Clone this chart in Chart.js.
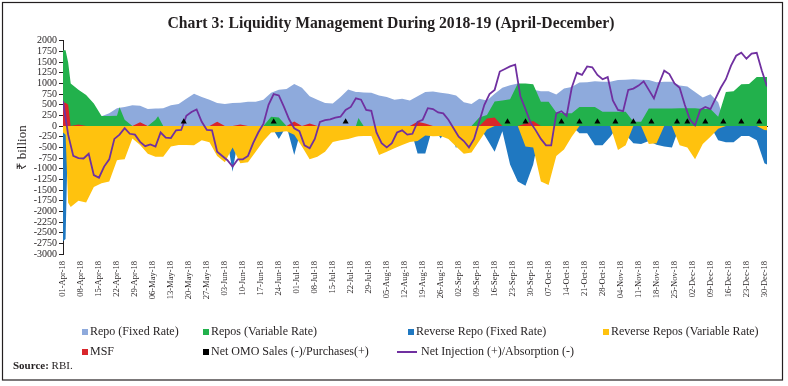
<!DOCTYPE html>
<html>
<head>
<meta charset="utf-8">
<script src="https://cdn.jsdelivr.net/npm/chart.js@4.4.1/dist/chart.umd.min.js"></script>
<style>
  html, body { margin: 0; padding: 0; background: #fff; }
</style>
</head>
<body>
<canvas id="chart" width="788" height="386"></canvas>
<script>
// weekly tick labels, one every 7 days from 01-Apr-18
const weekLabels = [
  '01-Apr-18','08-Apr-18','15-Apr-18','22-Apr-18','29-Apr-18','06-May-18','13-May-18','20-May-18',
  '27-May-18','03-Jun-18','10-Jun-18','17-Jun-18','24-Jun-18','01-Jul-18','08-Jul-18','15-Jul-18',
  '22-Jul-18','29-Jul-18','05-Aug-18','12-Aug-18','19-Aug-18','26-Aug-18','02-Sep-18','09-Sep-18',
  '16-Sep-18','23-Sep-18','30-Sep-18','07-Oct-18','14-Oct-18','21-Oct-18','28-Oct-18','04-Nov-18',
  '11-Nov-18','18-Nov-18','25-Nov-18','02-Dec-18','09-Dec-18','16-Dec-18','23-Dec-18','30-Dec-18'
];

// sample days (0 = 01-Apr-18) for the area series
const days = [
  0, 1, 2, 3, 6, 9, 12, 15, 18, 21,
  22, 24, 27, 30, 33, 36, 37, 39, 42, 45,
  48, 51, 54, 57, 60, 63, 66, 69, 72, 75,
  78, 81, 84, 87, 90, 93, 96, 99, 102, 105,
  108, 111, 114, 115, 117, 120, 123, 126, 129, 132,
  135, 138, 141, 144, 147, 150, 153, 156, 159, 162,
  165, 168, 171, 174, 177, 180, 183, 186, 189, 192,
  195, 198, 201, 204, 207, 210, 213, 216, 219, 222,
  225, 228, 231, 234, 237, 240, 243, 246, 249, 252,
  255, 258, 261, 264, 267, 270, 273, 274
];

const repoFixed = [
  0, 0, 0, 0, 0, 200, 330, 230, 300, 420,
  430, 450, 490, 480, 400, 415, 415, 420, 490, 520,
  640, 760, 680, 620, 540, 520, 540, 550, 570, 570,
  620, 780, 850, 870, 990, 900, 700, 620, 540, 530,
  680, 860, 800, 800, 790, 780, 720, 680, 620, 640,
  600, 700, 800, 810, 780, 760, 720, 560, 520, 640,
  600, 760, 900, 960, 1000, 850, 850, 820, 820, 740,
  880, 920, 1020, 1030, 1050, 1040, 1040, 1080, 1090, 1100,
  1090, 1080, 1030, 1040, 1040, 950, 930, 800, 670, 750,
  560, 0, 0, 0, 0, 0, 0, 0
];

const repoVar = [
  1780, 1780, 1500, 1000, 850, 730, 530, 235, 235, 240,
  440, 150, 0, 0, 0, 150, 230, 0, 0, 0,
  0, 0, 0, 0, 0, 0, 0, 0, 0, 0,
  0, 220, 200, 0, 0, 0, 0, 0, 0, 0,
  0, 0, 0, 190, 0, 0, 0, 0, 0, 0,
  0, 0, 0, 0, 0, 0, 0, 0, 0, 200,
  260, 580, 600, 630, 1000, 1000, 980, 570, 570, 320,
  300, 300, 450, 450, 450, 335, 335, 335, 335, 100,
  100, 415, 415, 415, 415, 420, 420, 420, 400, 400,
  220, 800, 820, 980, 990, 1150, 1150, 1150
];

const revFixed = [
  -2700, -2650, 0, 0, 0, 0, 0, 0, 0, 0,
  0, 0, 0, 0, 0, 0, 0, 0, 0, 0,
  0, 0, 0, 0, 0, 0, -1070, 0, 0, 0,
  0, 0, -300, 0, -680, 0, 0, 0, 0, 0,
  0, 0, 0, 0, 0, 0, 0, 0, 0, 0,
  0, -640, -640, 0, -290, 0, -520, 0, 0, 0,
  -300, -600, -120, -900, -1300, -1400, -900, 0, 0, 0,
  0, 0, -170, -170, -450, -450, -250, 0, -200, -400,
  -420, -350, -440, -480, -500, 0, 0, 0, 0, 0,
  -330, -380, -380, -230, -230, -330, -870, -900
];

const revVar = [
  -150, -200, -1800, -1900, -1750, -1790, -1430, -1340, -1300, -800,
  -790, -780, -290, -445, -650, -720, -720, -720, -480, -445,
  -445, -450, -330, -380, -700, -850, -500, -870, -850, -600,
  -350, -150, -140, -120, -200, -480, -780, -720, -600, -370,
  -330, -300, -250, -240, -230, -230, -680, -600, -520, -445,
  -370, -350, -220, -240, -230, -300, -480, -650, -620, -350,
  -80, 0, 0, 0, 0, -480, -500, -1300, -1380, -700,
  -550, -250, 0, 0, 0, 0, 0, -560, -450, 0,
  0, -420, -400, 0, 0, -450, -500, -780, -420, -250,
  -60, 0, 0, 0, 0, 0, -90, -100
];

const msf = [
  550, 550, 500, 0, 40, 0, 0, 0, 0, 0,
  0, 0, 0, 90, 0, 0, 0, 0, 0, 0,
  0, 0, 0, 0, 100, 0, 0, 40, 0, 0,
  0, 0, 0, 0, 110, 0, 60, 0, 0, 0,
  0, 0, 0, 0, 0, 0, 0, 0, 0, 0,
  0, 100, 60, 0, 0, 0, 0, 0, 0, 0,
  180, 200, 0, 0, 0, 60, 120, 0, 0, 0,
  0, 0, 0, 0, 0, 0, 0, 0, 0, 0,
  0, 0, 0, 0, 0, 0, 0, 0, 0, 0,
  0, 0, 0, 0, 0, 0, 0, 0
];

// OMO operation days and amounts
const omoDays = [47, 82, 110, 173, 180, 194, 201, 208, 215, 222, 229, 239, 243, 250, 257, 264, 271];
const omoValues = [100, 100, 100, 100, 100, 100, 100, 100, 100, 100, 100, 100, 100, 100, 100, 100, 100];

// net injection, every second day
const lineDays = Array.from({ length: 138 }, (_, i) => i * 2);
const netInjection = [
  590, -200, -700, -750, -760, -650, -1150, -1210, -950, -780,
  -300, -200, -50, -180, -200, -370, -470, -430, -480, -150,
  -270, -280, -100, -90, 240, 330, 390, 100, -90, -100,
  -600, -700, -800, -950, -780, -780, -700, -400, -150, 50,
  500, 750, 720, 450, 160, -50, -120, -450, -520, -300,
  100, 140, 160, 200, 220, 380, 450, 650, 620, 380,
  360, -150, -400, -500, -400, -150, -100, -200, -180, 100,
  150, 420, 400, 320, 300, 150, -50, -250, -350, -500,
  -300, 100, 500, 750, 850, 1280, 1340, 1400, 1440, 700,
  400, 80, -100, -300, -450, -450, 300, 350, 240, 900,
  1250, 1200, 1400, 1380, 1200, 1100, 1150, 600, 380, 350,
  850, 880, 950, 1050, 850, 650, 1000, 1300, 1220, 1000,
  900, 500, 150, 20, 380, 450, 400, 650, 900, 1100,
  1420, 1650, 1720, 1580, 1700, 1720, 1300, 930
];

const FONT = '"Liberation Serif", "Times New Roman", serif';

function points(xs, ys) {
  return xs.map((x, i) => ({ x: x, y: ys[i] }));
}

function area(label, values, color, order) {
  return {
    label: label,
    data: points(days, values),
    backgroundColor: color,
    borderColor: color,
    borderWidth: 0,
    fill: 'origin',
    pointRadius: 0,
    tension: 0,
    order: order,
    xAxisID: 'x'
  };
}

// legend slots follow the dataset order
const legendSlots = [
  { x: 82, y: 332 }, { x: 203, y: 332 }, { x: 408, y: 332 }, { x: 603, y: 332 },
  { x: 82, y: 352 }, { x: 203, y: 352 }, { x: 397, y: 352 }
];

const decor = {
  id: 'decor',
  beforeDraw(chart) {
    const ctx = chart.ctx;
    ctx.save();
    ctx.fillStyle = '#fff';
    ctx.fillRect(0, 0, chart.width, chart.height);
    ctx.restore();
  },
  afterDraw(chart) {
    const ctx = chart.ctx;
    ctx.save();
    ctx.strokeStyle = '#231f20';
    ctx.lineWidth = 1.2;
    ctx.strokeRect(2.5, 2.5, 780, 377.5);

    ctx.font = '12px ' + FONT;
    ctx.textBaseline = 'middle';
    ctx.fillStyle = '#231f20';
    chart.data.datasets.forEach((ds, i) => {
      const slot = legendSlots[i];
      if (ds.fill === false && ds.showLine !== false) {
        ctx.strokeStyle = ds.borderColor;
        ctx.lineWidth = 2;
        ctx.beginPath();
        ctx.moveTo(slot.x, slot.y);
        ctx.lineTo(slot.x + 20, slot.y);
        ctx.stroke();
        ctx.fillStyle = '#231f20';
        ctx.fillText(ds.label, slot.x + 24, slot.y);
      } else {
        ctx.fillStyle = ds.backgroundColor;
        ctx.fillRect(slot.x, slot.y - 3, 6, 6);
        ctx.fillStyle = '#231f20';
        ctx.fillText(ds.label, slot.x + 8, slot.y);
      }
    });

    ctx.font = 'bold 11px ' + FONT;
    ctx.fillText('Source:', 13, 366);
    const w = ctx.measureText('Source:').width;
    ctx.font = '11px ' + FONT;
    ctx.fillText(' RBI.', 13 + w, 366);
    ctx.restore();
  }
};

new Chart(document.getElementById('chart'), {
  type: 'line',
  data: {
    datasets: [
      area('Repo (Fixed Rate)', repoFixed, '#8eaadc', 6),
      area('Repos (Variable Rate)', repoVar, '#22b14c', 5),
      area('Reverse Repo (Fixed Rate)', revFixed, '#1f78c1', 4),
      area('Reverse Repos (Variable Rate)', revVar, '#ffc20e', 3),
      area('MSF', msf, '#d9262b', 2),
      {
        label: 'Net OMO Sales (-)/Purchases(+)',
        data: points(omoDays, omoValues),
        showLine: false,
        fill: false,
        backgroundColor: '#000',
        borderColor: '#000',
        pointStyle: 'triangle',
        pointRadius: 3.5,
        borderWidth: 0,
        order: 0,
        xAxisID: 'x'
      },
      {
        label: 'Net Injection (+)/Absorption (-)',
        data: points(lineDays, netInjection),
        fill: false,
        borderColor: '#7030a0',
        backgroundColor: '#7030a0',
        borderWidth: 1.8,
        pointRadius: 0,
        tension: 0,
        order: 1,
        xAxisID: 'x'
      }
    ]
  },
  options: {
    responsive: false,
    animation: false,
    layout: { padding: { left: 15, right: 21, top: 0, bottom: 80 } },
    plugins: {
      legend: { display: false },
      tooltip: { enabled: false },
      title: {
        display: true,
        text: 'Chart 3: Liquidity Management During 2018-19 (April-December)',
        color: '#231f20',
        font: { family: FONT, size: 15.7, weight: 'bold' },
        padding: { top: 15, bottom: 7 }
      }
    },
    scales: {
      x: {
        type: 'linear',
        position: 'bottom',
        min: 0,
        max: 274,
        grid: { display: false, drawTicks: false },
        border: { display: false },
        ticks: {
          stepSize: 7,
          includeBounds: false,
          autoSkip: false,
          minRotation: 90,
          maxRotation: 90,
          padding: 7,
          color: '#231f20',
          font: { family: FONT, size: 8.5 },
          callback: value => weekLabels[value / 7]
        },
        afterFit: scale => { scale.height = 52; }
      },
      x2: {
        type: 'linear',
        axis: 'x',
        position: { y: 0 },
        min: 0,
        max: 274,
        grid: { display: true, drawOnChartArea: false, drawTicks: true, tickLength: 4, color: '#231f20' },
        border: { display: true, color: '#231f20', width: 1 },
        ticks: { display: false, stepSize: 7, includeBounds: false, autoSkip: false }
      },
      y: {
        min: -3000,
        max: 2000,
        grid: { display: true, drawOnChartArea: false, drawTicks: true, tickLength: 4, color: '#231f20' },
        border: { display: true, color: '#231f20', width: 1 },
        ticks: {
          stepSize: 250,
          autoSkip: false,
          padding: 2,
          color: '#231f20',
          font: { family: FONT, size: 10 },
          callback: value => String(value)
        },
        title: {
          display: true,
          text: '₹ billion',
          color: '#231f20',
          font: { family: FONT, size: 13 },
          padding: { top: 0, bottom: 0 }
        },
        afterFit: scale => { scale.width = 48; }
      }
    }
  },
  plugins: [decor]
});
</script>
</body>
</html>
